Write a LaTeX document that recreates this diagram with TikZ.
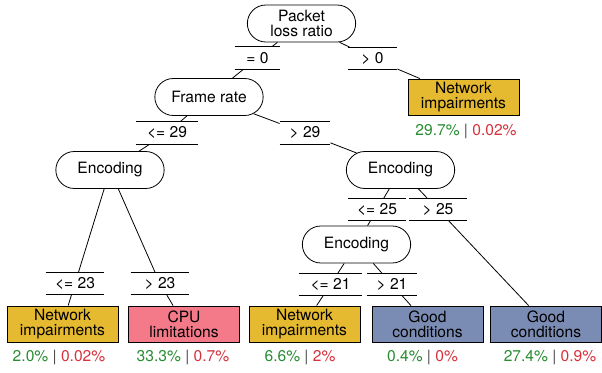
\documentclass[tikz,border=0pt]{standalone}
\usepackage{fontspec}
\setmainfont{TeX Gyre Heros}
\usetikzlibrary{shapes.misc}

\definecolor{netcol}{RGB}{229,185,48}
\definecolor{cpucol}{RGB}{244,122,138}
\definecolor{goodcol}{RGB}{123,140,180}
\definecolor{okgreen}{RGB}{40,140,50}
\definecolor{badred}{RGB}{215,50,60}

\tikzset{
  split/.style={draw,rounded rectangle,minimum width=83.25pt,minimum height=27.75pt,inner sep=1pt,fill=white},
  leaf/.style={draw,rectangle,minimum width=83.25pt,minimum height=27pt,inner sep=1pt,align=center},
  cond/.style={rectangle,minimum width=43.5pt,minimum height=16.5pt,inner sep=0pt},
  pct/.style={inner sep=0pt}
}
\newcommand{\shares}[2]{\textcolor{okgreen}{#1} \textcolor{black!70}{|} \textcolor{badred}{#2}}

\begin{document}
\begin{tikzpicture}[x=0.75pt,y=-0.75pt,line width=0.6pt,font=\fontsize{11.7}{11.3}\selectfont]
    \useasboundingbox (0,0) rectangle (602,373);
    % inner nodes
    \node[split,align=center] (loss) at (301.5,23.5) {Packet\\loss ratio};
    \node[split] (frame) at (209,97) {Frame rate};
    \node[split] (encL) at (110,170) {Encoding};
    \node[split] (encR) at (400.5,170) {Encoding};
    \node[split] (encM) at (356.5,244.5) {Encoding};
    % split conditions
    \node[cond,minimum width=33.75pt] (eqzero) at (257.5,58) {= 0};
    \node[cond,minimum width=36.75pt] (gtzero) at (372.5,58.5) {> 0};
    \node[cond,minimum width=46.5pt] (letwnine) at (167,133) {<= 29};
    \node[cond,minimum width=37.5pt] (gttwnine) at (305,133) {> 29};
    \node[cond] (letwthree) at (75,283.5) {<= 23};
    \node[cond] (gttwthree) at (160,283.5) {> 23};
    \node[cond] (letwfive) at (377,209.5) {<= 25};
    \node[cond] (gttwfive) at (438,209.5) {> 25};
    \node[cond,minimum width=47.25pt] (letwone) at (330.5,284.5) {<= 21};
    \node[cond,minimum width=37.5pt] (gttwone) at (392,284.5) {> 21};
    \foreach \c in {eqzero,gtzero,letwnine,gttwnine,letwthree,gttwthree,letwfive,gttwfive,letwone,gttwone}
      \draw (\c.north west) -- (\c.north east) (\c.south west) -- (\c.south east);
    % leaves
    \node[leaf,fill=netcol] (netA) at (463.5,97) {Network\\impairments};
    \node[leaf,fill=netcol] (netB) at (62.5,324) {Network\\impairments};
    \node[leaf,fill=cpucol] (cpu) at (184,324) {CPU\\limitations};
    \node[leaf,fill=netcol] (netC) at (304.5,324) {Network\\impairments};
    \node[leaf,fill=goodcol] (goodA) at (427.5,324) {Good\\conditions};
    \node[leaf,fill=goodcol] (goodB) at (546,324) {Good\\conditions};
    % shares below leaves
    \node[pct] (pA) at (466,131) {\shares{29.7\%}{0.02\%}};
    \node[pct] (pB) at (59,357) {\shares{2.0\%}{0.02\%}};
    \node[pct] (pC) at (183,357) {\shares{33.3\%}{0.7\%}};
    \node[pct] (pD) at (300,357) {\shares{6.6\%}{2\%}};
    \node[pct] (pE) at (422.5,357) {\shares{0.4\%}{0\%}};
    \node[pct] (pF) at (550,357) {\shares{27.4\%}{0.9\%}};
    % edges
    \draw (loss) -- (eqzero) -- (frame);
    \draw (loss) -- (gtzero) -- (netA);
    \draw (frame) -- (letwnine) -- (encL);
    \draw (frame) -- (gttwnine) -- (encR);
    \draw (encL) -- (letwthree) -- (netB);
    \draw (encL) -- (gttwthree) -- (cpu);
    \draw (encR) -- (letwfive) -- (encM);
    \draw (encR) -- (gttwfive) -- (goodB);
    \draw (encM) -- (letwone) -- (netC);
    \draw (encM) -- (gttwone) -- (goodA);
\end{tikzpicture}
\end{document}
